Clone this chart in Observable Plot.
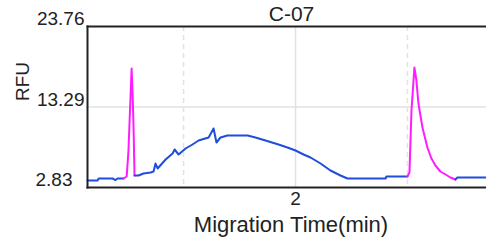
<!DOCTYPE html>
<html>
<head>
<meta charset="utf-8">
<script src="https://cdn.jsdelivr.net/npm/d3@7"></script>
<script src="https://cdn.jsdelivr.net/npm/@observablehq/plot@0.6"></script>
<style>
  html, body { margin: 0; padding: 0; background: #fff; }
  #chart svg { display: block; }
</style>
</head>
<body>
<div id="chart"></div>
<script>
const title = "C-07";
const xLabel = "Migration Time(min)";
const yLabel = "RFU";
const yTicks = [2.83, 13.29, 23.76];
const xTicks = [2];
const xMinorGrid = [1.5, 2.5];

// baseline trace (blue), before first peak
const baseA_time = [1.071, 1.116, 1.121, 1.183, 1.196, 1.205, 1.232];
const baseA_rfu  = [3.74, 3.74, 4.00, 4.00, 3.80, 4.00, 4.00];
// first peak (magenta)
const peak1_time = [1.232, 1.246, 1.254, 1.268, 1.273, 1.277, 1.281];
const peak1_rfu  = [4.00, 4.26, 7.64, 18.30, 14.5, 10.24, 4.39];
// broad hump (blue)
const baseB_time = [1.281, 1.299, 1.321, 1.353, 1.366, 1.375, 1.384, 1.420, 1.451, 1.460, 1.478, 1.509, 1.540, 1.567, 1.612, 1.634, 1.647, 1.665, 1.696, 1.786, 1.821, 1.866, 1.924, 1.964, 2.000, 2.036, 2.067, 2.112, 2.156, 2.201, 2.232, 2.402, 2.406, 2.500];
const baseB_rfu  = [4.39, 4.39, 4.65, 4.78, 4.91, 5.95, 5.30, 6.47, 7.25, 7.77, 7.12, 7.90, 8.42, 8.94, 9.33, 10.50, 8.68, 9.33, 9.59, 9.59, 9.33, 8.94, 8.42, 8.03, 7.64, 7.12, 6.73, 5.95, 5.04, 4.39, 4.00, 4.00, 4.26, 4.26];
// second peak (magenta)
const peak2_time = [2.500, 2.509, 2.518, 2.531, 2.540, 2.549, 2.567, 2.589, 2.607, 2.625, 2.647, 2.670, 2.692, 2.714];
const peak2_rfu  = [4.26, 4.78, 12.84, 18.43, 16.74, 13.75, 10.63, 8.03, 6.60, 5.69, 4.91, 4.52, 4.13, 3.87];
// tail (blue)
const baseC_time = [2.714, 2.723, 2.853];
const baseC_rfu  = [3.87, 4.13, 4.13];

const segments = [
  {id: "A", kind: "base", t: baseA_time, v: baseA_rfu},
  {id: "P1", kind: "peak", t: peak1_time, v: peak1_rfu},
  {id: "B", kind: "base", t: baseB_time, v: baseB_rfu},
  {id: "P2", kind: "peak", t: peak2_time, v: peak2_rfu},
  {id: "C", kind: "base", t: baseC_time, v: baseC_rfu}
];
const rows = segments.flatMap(s => s.t.map((t, i) => ({id: s.id, kind: s.kind, t, v: s.v[i]})));

const font = "'Liberation Sans', Arial, sans-serif";
const xDomain = [1.071, 2.853];
const yDomain = [2.83, 23.76];
const ink = "#222";

const chart = Plot.plot({
  width: 486,
  height: 244,
  marginLeft: 87,
  marginRight: 0,
  marginTop: 26,
  marginBottom: 57,
  style: {fontFamily: font, fontSize: "18px", color: ink, background: "#fff", overflow: "visible"},
  x: {domain: xDomain, axis: null},
  y: {domain: yDomain, axis: null},
  color: {domain: ["base", "peak"], range: ["#1f4ddc", "#ff1cff"]},
  marks: [
    Plot.ruleY([yTicks[1]], {stroke: "#e2e2e2", strokeWidth: 1.5}),
    Plot.ruleX(xTicks, {stroke: "#e2e2e2", strokeWidth: 1.5}),
    Plot.ruleX(xMinorGrid, {stroke: "#e2e2e2", strokeWidth: 1.5, strokeDasharray: "5,4"}),
    Plot.line(rows, {x: "t", y: "v", z: "id", stroke: "kind", strokeWidth: 2, curve: "linear"}),
    Plot.frame({anchor: "top", stroke: ink, strokeWidth: 2}),
    Plot.frame({anchor: "bottom", stroke: ink, strokeWidth: 2}),
    Plot.frame({anchor: "left", stroke: ink, strokeWidth: 2}),
    Plot.text(yTicks.slice(1), {x: xDomain[0], y: d => d, text: d => d.toFixed(2), textAnchor: "end", lineAnchor: "middle", dx: -3, dy: -7.5, fontSize: 19, letterSpacing: 0.6, fill: ink}),
    Plot.text(yTicks.slice(0, 1), {x: xDomain[0], y: d => d, text: d => d.toFixed(2), textAnchor: "end", lineAnchor: "middle", dx: -15, dy: -8, fontSize: 19, letterSpacing: 0.6, fill: ink}),
    Plot.text(xTicks, {x: d => d, frameAnchor: "bottom", textAnchor: "middle", lineAnchor: "middle", text: d => String(d), dy: 11, fontSize: 19, fill: ink}),
    Plot.text([xLabel], {frameAnchor: "bottom", textAnchor: "middle", lineAnchor: "middle", dx: 4, dy: 37, fontSize: 22, letterSpacing: 0.6, fill: ink}),
    Plot.text([title], {frameAnchor: "top", textAnchor: "middle", lineAnchor: "middle", dx: 4.5, dy: -12, fontSize: 21, letterSpacing: 0.8, fill: ink}),
    Plot.text([yLabel], {frameAnchor: "top-left", textAnchor: "middle", lineAnchor: "middle", dx: -65, dy: 55, rotate: -90, fontSize: 19, fill: ink})
  ]
});
document.getElementById("chart").appendChild(chart);
</script>
</body>
</html>
